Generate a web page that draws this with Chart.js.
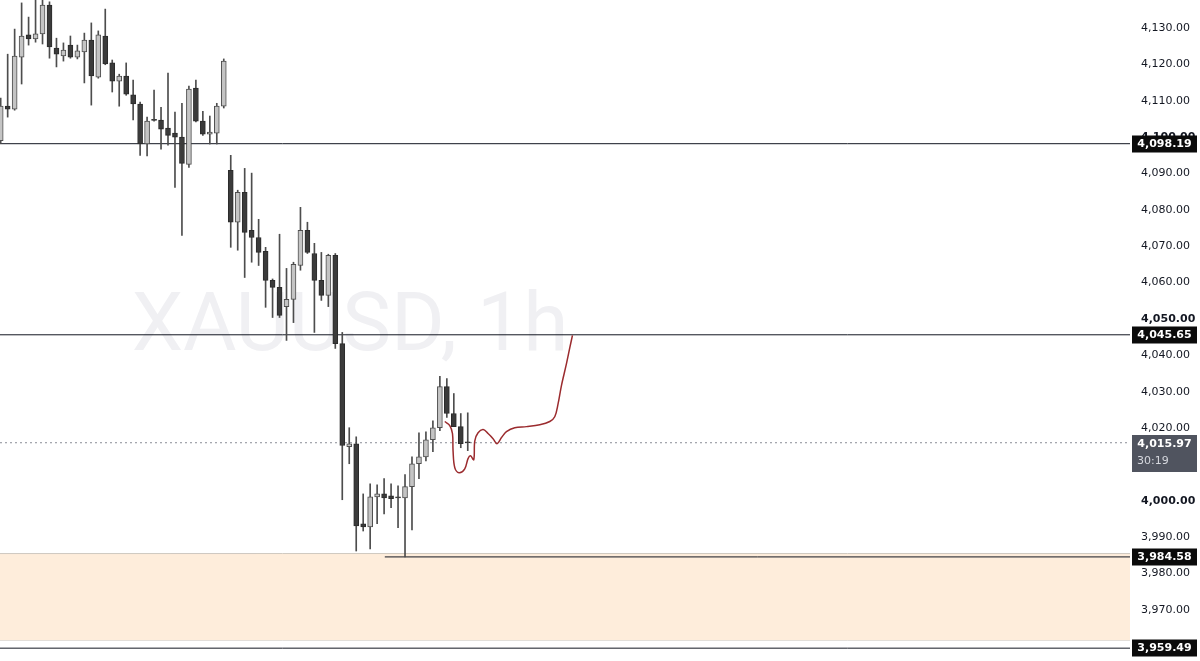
<!DOCTYPE html>
<html><head><meta charset="utf-8">
<script src="https://cdn.jsdelivr.net/npm/chart.js@4.4.1/dist/chart.umd.min.js"></script>
<style>html,body{margin:0;padding:0;background:#fff;overflow:hidden}#wrap{width:1200px;height:661px;position:relative}</style>
</head><body><div id="wrap"><canvas id="c" width="1200" height="661"></canvas></div>
<script>
// ---- data (XAUUSD 1h candles, oldest first) ----
const opens  = [4099.0,4108.5,4107.7,4122.0,4128.1,4127.0,4128.4,4136.3,4124.5,4122.3,4125.3,4122.0,4123.4,4126.7,4116.5,4127.8,4120.4,4115.4,4116.8,4111.6,4109.1,4098.1,4104.7,4104.7,4102.5,4101.1,4100.0,4092.5,4113.5,4104.4,4100.8,4101.1,4108.5,4090.9,4076.6,4084.8,4074.4,4072.4,4068.6,4060.6,4058.7,4053.4,4055.4,4064.7,4074.4,4068.0,4060.6,4056.5,4067.5,4043.2,4014.9,4015.7,3993.7,3992.8,4001.1,4001.9,4001.4,4000.8,4000.8,4003.9,4010.2,4012.1,4016.8,4020.1,4031.4,4024.0,4020.4,4016.0];
const highs  = [4110.7,4122.8,4129.7,4136.9,4133.0,4138.3,4138.5,4137.2,4127.2,4125.9,4127.8,4125.3,4128.6,4131.4,4129.2,4135.2,4121.2,4117.3,4120.4,4115.7,4109.6,4105.5,4112.9,4108.2,4117.6,4106.9,4109.3,4114.0,4115.7,4107.1,4105.8,4109.3,4121.5,4095.0,4085.4,4091.4,4090.1,4077.4,4069.7,4061.0,4073.3,4063.9,4065.6,4080.7,4076.6,4070.8,4068.3,4067.8,4068.0,4046.3,4020.1,4017.6,4001.9,4004.7,4004.4,4006.1,4004.7,4004.1,4007.2,4012.1,4018.7,4019.0,4022.0,4034.2,4033.6,4029.5,4024.0,4024.2];
const lows   = [4098.2,4105.5,4107.4,4114.6,4125.3,4126.1,4125.6,4121.7,4119.3,4120.9,4121.7,4121.5,4114.9,4108.8,4116.2,4119.9,4112.4,4108.5,4111.5,4104.7,4095.0,4094.8,4104.4,4096.7,4097.8,4086.2,4073.0,4091.7,4104.2,4100.5,4098.1,4098.1,4108.0,4069.7,4068.9,4061.4,4065.6,4064.7,4053.2,4050.4,4050.4,4044.1,4049.0,4063.4,4068.0,4046.3,4055.1,4053.4,4041.9,4000.3,4010.2,3986.2,3991.7,3986.8,3993.7,3996.4,3998.1,3992.6,3984.58,3992.0,4006.1,4011.0,4013.5,4019.3,4022.9,4020.4,4014.6,4013.8];
const closes = [4108.5,4107.7,4122.3,4127.8,4127.0,4128.4,4136.3,4124.8,4122.8,4123.9,4122.0,4123.7,4126.7,4116.8,4128.1,4120.1,4115.4,4116.8,4111.8,4109.1,4098.1,4104.4,4104.6,4102.2,4100.5,4100.0,4092.8,4113.2,4104.4,4100.8,4101.4,4108.5,4120.9,4076.6,4084.8,4073.8,4072.4,4068.3,4060.6,4058.7,4051.0,4055.4,4065.0,4074.4,4068.3,4060.6,4056.5,4067.5,4043.2,4015.2,4015.7,3993.1,3992.8,4001.1,4001.9,4000.8,4000.6,4000.8,4003.9,4010.2,4012.1,4016.8,4020.1,4031.4,4024.0,4020.4,4015.7,4015.97];

// hand-drawn projection path (x in bar units, y price)
const pathX = [63.70,64.42,64.81,64.89,65.14,65.75,66.57,67.04,67.39,67.86,68.01,68.48,69.20,69.91,70.63,71.20,71.84,72.55,73.74,75.42,77.33,78.77,79.48,79.96,80.44,81.16,81.64,82.02];
const pathY = [4021.8,4020.7,4018.5,4013.8,4009.1,4007.7,4008.8,4011.6,4012.4,4011.3,4016.5,4018.7,4019.6,4018.5,4017.1,4015.7,4017.4,4019.0,4020.1,4020.4,4020.9,4021.8,4023.1,4026.7,4031.7,4037.7,4042.1,4045.5];

const levelLines = [4098.19, 4045.65, 3959.49];
const supportLevel = 3984.58;
const supportStartBar = 55.1;
const zoneTop = 3985.5;
const zoneBottom = 3961.7;
const lastPrice = 4015.97;
const countdown = '30:19';
const tagLevels = [4098.19, 4045.65, 3984.58, 3959.49];
const symbolLabel = 'XAUUSD, 1h';

// view window
const X_MIN = -0.1, X_MAX = 162.0;
const Y_MIN = 3955.96, Y_MAX = 4137.70;

function fmt(v){
  const s = Math.abs(v).toFixed(2);
  let [i,d] = s.split('.');
  i = i.replace(/\B(?=(\d{3})+(?!\d))/g, ',');
  return (v<0?'-':'') + i + '.' + d;
}

const bull = (i)=> closes[i] > opens[i];
const bodies = opens.map((o,i)=>({x:i, y:[o, closes[i]]}));
const wicks = lows.map((l,i)=>({x:i, y:[l, highs[i]]}));
const hline = (v, x0) => [{x: x0===undefined?X_MIN:x0, y:v},{x:X_MAX, y:v}];

const watermark = {
  id:'watermark',
  beforeDatasetsDraw(chart){
    const c = chart.ctx;
    c.save();
    c.font = '400 82px Roboto, "Open Sans", sans-serif';
    c.fillStyle = '#f0f0f3';
    c.textAlign = 'center';
    c.textBaseline = 'alphabetic';
    c.fillText(symbolLabel, 350, 350);
    c.restore();
  }
};

const tags = {
  id:'tags',
  afterDraw(chart){
    const c = chart.ctx, ys = chart.scales.y;
    c.save();
    c.font = 'bold 11px "DejaVu Sans", sans-serif';
    c.textAlign = 'center';
    c.textBaseline = 'middle';
    tagLevels.forEach(v=>{
      const y = Math.round(ys.getPixelForValue(v));
      c.fillStyle = '#0b0b0b';
      c.fillRect(1132, y-8.5, 65, 17);
      c.fillStyle = '#ffffff';
      c.fillText(fmt(v), 1164.5, y+0.5);
    });
    const y = Math.round(ys.getPixelForValue(lastPrice));
    c.fillStyle = '#50545f';
    c.fillRect(1132, y-8, 65, 37);
    c.fillStyle = '#ffffff';
    c.fillText(fmt(lastPrice), 1164.5, y+1);
    c.fillStyle = '#d6d8de';
    c.font = '11px "DejaVu Sans", sans-serif';
    c.textAlign = 'left';
    c.fillText(countdown, 1137, y+18);
    c.restore();
  }
};

const lineDs = (data, color, extra) => Object.assign({
  type:'line', data, borderColor:color, borderWidth:1, pointRadius:0, fill:false, tension:0
}, extra||{});

new Chart(document.getElementById('c'), {
  data:{
    datasets:[
      lineDs(hline(zoneTop), '#cfc9c1', {fill:'+1', backgroundColor:'#feeddb', order:20}),
      lineDs(hline(zoneBottom), '#cfc9c1', {order:21}),
      lineDs(hline(levelLines[0]), '#131722', {order:5}),
      lineDs(hline(levelLines[1]), '#131722', {order:5}),
      lineDs(hline(levelLines[2]), '#131722', {order:5}),
      lineDs(hline(supportLevel, supportStartBar), '#131722', {order:5}),
      lineDs(hline(lastPrice), '#8a8d96', {borderDash:[2,3], order:6}),
      {type:'bar', data:wicks, barThickness:1, grouped:false, order:3,
        backgroundColor:'#4d4d4d', borderWidth:0},
      {type:'bar', data:bodies, barThickness:5, grouped:false, order:2, minBarLength:1,
        backgroundColor:(ctx)=> bull(ctx.dataIndex)?'#c4c4c4':'#3b3b3b',
        borderColor:(ctx)=> bull(ctx.dataIndex)?'#4e4e4e':'#2b2b2b',
        borderWidth:1, borderSkipped:false},
      lineDs(pathX.map((x,i)=>({x, y:pathY[i]})), '#9b2b2e', {borderWidth:1.5, tension:0.35, order:1})
    ]
  },
  options:{
    responsive:false, animation:false, devicePixelRatio:1,
    layout:{padding:0},
    plugins:{legend:{display:false}, tooltip:{enabled:false}},
    scales:{
      x:{type:'linear', min:X_MIN, max:X_MAX, display:false, offset:false},
      y:{position:'right', min:Y_MIN, max:Y_MAX,
        grid:{display:false, drawTicks:false}, border:{display:false},
        ticks:{stepSize:10, includeBounds:false, padding:11, color:'#131722',
          font:(ctx)=>({family:'"DejaVu Sans", sans-serif', size:11,
            weight:(ctx.tick && ctx.tick.value % 50 === 0)?'bold':'normal'}),
          callback:(v)=>fmt(v)},
        afterFit:(s)=>{s.width = 70; s.paddingTop = 0; s.paddingBottom = 0;}
      }
    }
  },
  plugins:[watermark, tags]
});
</script></body></html>
